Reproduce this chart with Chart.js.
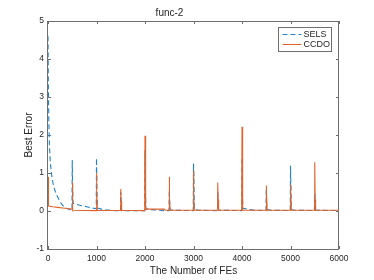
<!DOCTYPE html>
<html>
<head>
<meta charset="utf-8">
<script src="https://cdn.jsdelivr.net/npm/chart.js@4.4.1/dist/chart.umd.min.js"></script>
<style>
  html, body { margin: 0; padding: 0; background: #fff; }
  #wrap { width: 374px; height: 280px; }
</style>
</head>
<body>
<div id="wrap"><canvas id="chart" width="374" height="280"></canvas></div>
<script>
// SELS curve (FEs, best error)
const selsFEs = [0, 8, 18, 30, 50, 75, 105, 140, 180, 225, 270, 320, 380, 440, 495,
	500, 508, 518, 600, 700, 800, 900, 995,
	1000, 1008, 1018, 1100, 1200, 1300, 1400, 1495,
	1500, 1508, 1518, 1995,
	2000, 2008, 2018, 2100, 2200, 2300, 2400, 2495,
	2500, 2508, 2518, 2600, 2995,
	3000, 3008, 3018, 3100, 3495,
	3500, 3508, 3518, 3995,
	4000, 4008, 4018, 4100, 4200, 4300, 4495,
	4500, 4508, 4518, 4600, 4995,
	5000, 5008, 5018, 5100, 5495,
	5500, 5508, 5518, 6000];
const selsErr = [4.6, 3.2, 2.3, 1.7, 1.25, 0.95, 0.72, 0.55, 0.42, 0.3, 0.2, 0.12, 0.07, 0.04, 0.02,
	1.34, 0.6, 0.2, 0.17, 0.14, 0.11, 0.08, 0.06,
	1.39, 0.6, 0.08, 0.05, 0.03, 0.015, 0.01, 0.01,
	0.5, 0.25, 0.01, 0.01,
	1.6, 0.6, 0.06, 0.04, 0.03, 0.02, 0.01, 0.01,
	0.55, 0.25, 0.03, 0.02, 0.01,
	1.25, 0.9, 0.04, 0.02, 0.01,
	0.5, 0.2, 0.02, 0.01,
	1.4, 0.5, 0.07, 0.05, 0.03, 0.02, 0.01,
	0.55, 0.2, 0.04, 0.02, 0.01,
	1.19, 0.7, 0.03, 0.02, 0.01,
	0.45, 0.2, 0.02, 0.01];

// CCDO curve
const ccdoFEs = [0, 5, 15, 100, 200, 300, 400, 495,
	500, 506, 515, 995,
	1000, 1008, 1018, 1495,
	1500, 1508, 1518, 1995,
	2000, 2008, 2018, 2400, 2420, 2495,
	2500, 2508, 2518, 2995,
	3000, 3008, 3018, 3495,
	3500, 3508, 3518, 3995,
	4000, 4008, 4018, 4495,
	4500, 4508, 4518, 4995,
	5000, 5008, 5018, 5495,
	5500, 5508, 5518, 6000];
const ccdoErr = [0.9, 0.5, 0.13, 0.11, 0.095, 0.08, 0.065, 0.05,
	0.75, 0.3, 0.02, 0.01,
	1.0, 0.5, 0.02, 0.015,
	0.58, 0.25, 0.02, 0.01,
	1.98, 0.5, 0.05, 0.05, 0.02, 0.02,
	0.9, 0.35, 0.02, 0.02,
	1.05, 0.4, 0.02, 0.02,
	0.75, 0.3, 0.02, 0.02,
	2.22, 0.5, 0.02, 0.02,
	0.67, 0.5, 0.02, 0.02,
	0.7, 0.5, 0.02, 0.02,
	1.28, 0.3, 0.02, 0.02];

const xTicks = [0, 1000, 2000, 3000, 4000, 5000, 6000];
const yTicks = [-1, 0, 1, 2, 3, 4, 5];

const FONT = "'Liberation Sans', Arial, Helvetica, sans-serif";
const AXIS_COLOR = "#6e6e6e";
const TEXT_COLOR = "#262626";

function toPoints(xs, ys) {
	return xs.map((x, i) => ({ x: x, y: ys[i] }));
}

// box round the axes with inward ticks, like matlab
const boxPlugin = {
	id: "box",
	beforeDatasetsDraw(chart) {
		const ctx = chart.ctx;
		const area = chart.chartArea;
		const xs = chart.scales.x;
		const ys = chart.scales.y;
		const len = 3;
		ctx.save();
		ctx.strokeStyle = AXIS_COLOR;
		ctx.lineWidth = 1;
		ctx.strokeRect(Math.round(area.left) - 0.5, Math.round(area.top) + 0.5,
			Math.round(area.right - area.left), Math.round(area.bottom - area.top));
		ctx.beginPath();
		xTicks.forEach((v) => {
			const px = Math.round(xs.getPixelForValue(v)) + 0.5;
			ctx.moveTo(px, area.bottom);
			ctx.lineTo(px, area.bottom - len);
			ctx.moveTo(px, area.top);
			ctx.lineTo(px, area.top + len);
		});
		yTicks.forEach((v) => {
			const py = Math.round(ys.getPixelForValue(v)) + 0.5;
			ctx.moveTo(area.left, py);
			ctx.lineTo(area.left + len, py);
			ctx.moveTo(area.right, py);
			ctx.lineTo(area.right - len, py);
		});
		ctx.stroke();
		ctx.restore();
	},
	afterDraw(chart) {
		// legend box in the top right corner
		const ctx = chart.ctx;
		const area = chart.chartArea;
		const w = 53, h = 24;
		const bx = Math.round(area.right) - 8 - w + 0.5;
		const by = Math.round(area.top) + 6 + 0.5;
		ctx.save();
		ctx.fillStyle = "#fff";
		ctx.fillRect(bx, by, w, h);
		ctx.strokeStyle = AXIS_COLOR;
		ctx.lineWidth = 1;
		ctx.strokeRect(bx, by, w, h);
		ctx.font = "9px " + FONT;
		ctx.textBaseline = "middle";
		chart.data.datasets.forEach((ds, i) => {
			const yy = by + 7 + i * 10;
			ctx.beginPath();
			ctx.strokeStyle = ds.borderColor;
			ctx.setLineDash(ds.borderDash || []);
			ctx.moveTo(bx + 4, yy);
			ctx.lineTo(bx + 23, yy);
			ctx.stroke();
			ctx.setLineDash([]);
			ctx.fillStyle = TEXT_COLOR;
			ctx.fillText(ds.label, bx + 25, yy);
		});
		ctx.restore();
	},
};

const ctx = document.getElementById("chart").getContext("2d");
new Chart(ctx, {
	type: "line",
	data: {
		datasets: [
			{
				label: "SELS",
				data: toPoints(selsFEs, selsErr),
				borderColor: "#1f82cc",
				borderWidth: 1.1,
				borderDash: [5, 3],
				pointRadius: 0,
				tension: 0,
				order: 1,
			},
			{
				label: "CCDO",
				data: toPoints(ccdoFEs, ccdoErr),
				borderColor: "#e0632a",
				borderWidth: 1.1,
				pointRadius: 0,
				tension: 0,
				order: 0,
			},
		],
	},
	options: {
		responsive: false,
		animation: false,
		layout: { padding: { left: 0, right: 35, top: 0, bottom: 0 } },
		plugins: {
			legend: { display: false },
			tooltip: { enabled: false },
			title: {
				display: true,
				text: "func-2",
				color: TEXT_COLOR,
				font: { family: FONT, size: 10, weight: "normal" },
				padding: { top: 7, bottom: 2 },
			},
		},
		scales: {
			x: {
				type: "linear",
				min: 0,
				max: 6000,
				afterBuildTicks: (scale) => {
					scale.ticks = xTicks.map((v) => ({ value: v }));
				},
				afterFit: (scale) => {
					scale.height = 31;
				},
				grid: { display: false, drawTicks: false },
				border: { display: false },
				ticks: {
					color: TEXT_COLOR,
					font: { family: FONT, size: 8.5 },
					padding: 5,
					maxRotation: 0,
					callback: (v) => String(v),
				},
				title: {
					display: true,
					text: "The Number of FEs",
					color: TEXT_COLOR,
					font: { family: FONT, size: 10 },
					padding: { top: 0, bottom: 3 },
				},
			},
			y: {
				min: -1,
				max: 5,
				afterBuildTicks: (scale) => {
					scale.ticks = yTicks.map((v) => ({ value: v }));
				},
				afterFit: (scale) => {
					scale.width = 48;
				},
				grid: { display: false, drawTicks: false },
				border: { display: false },
				ticks: {
					color: TEXT_COLOR,
					font: { family: FONT, size: 8.5 },
					padding: 4,
					callback: (v) => String(v),
				},
				title: {
					display: true,
					text: "Best Error",
					color: TEXT_COLOR,
					font: { family: FONT, size: 10 },
					padding: { top: 23, bottom: 0 },
				},
			},
		},
	},
	plugins: [boxPlugin],
});
</script>
</body>
</html>
